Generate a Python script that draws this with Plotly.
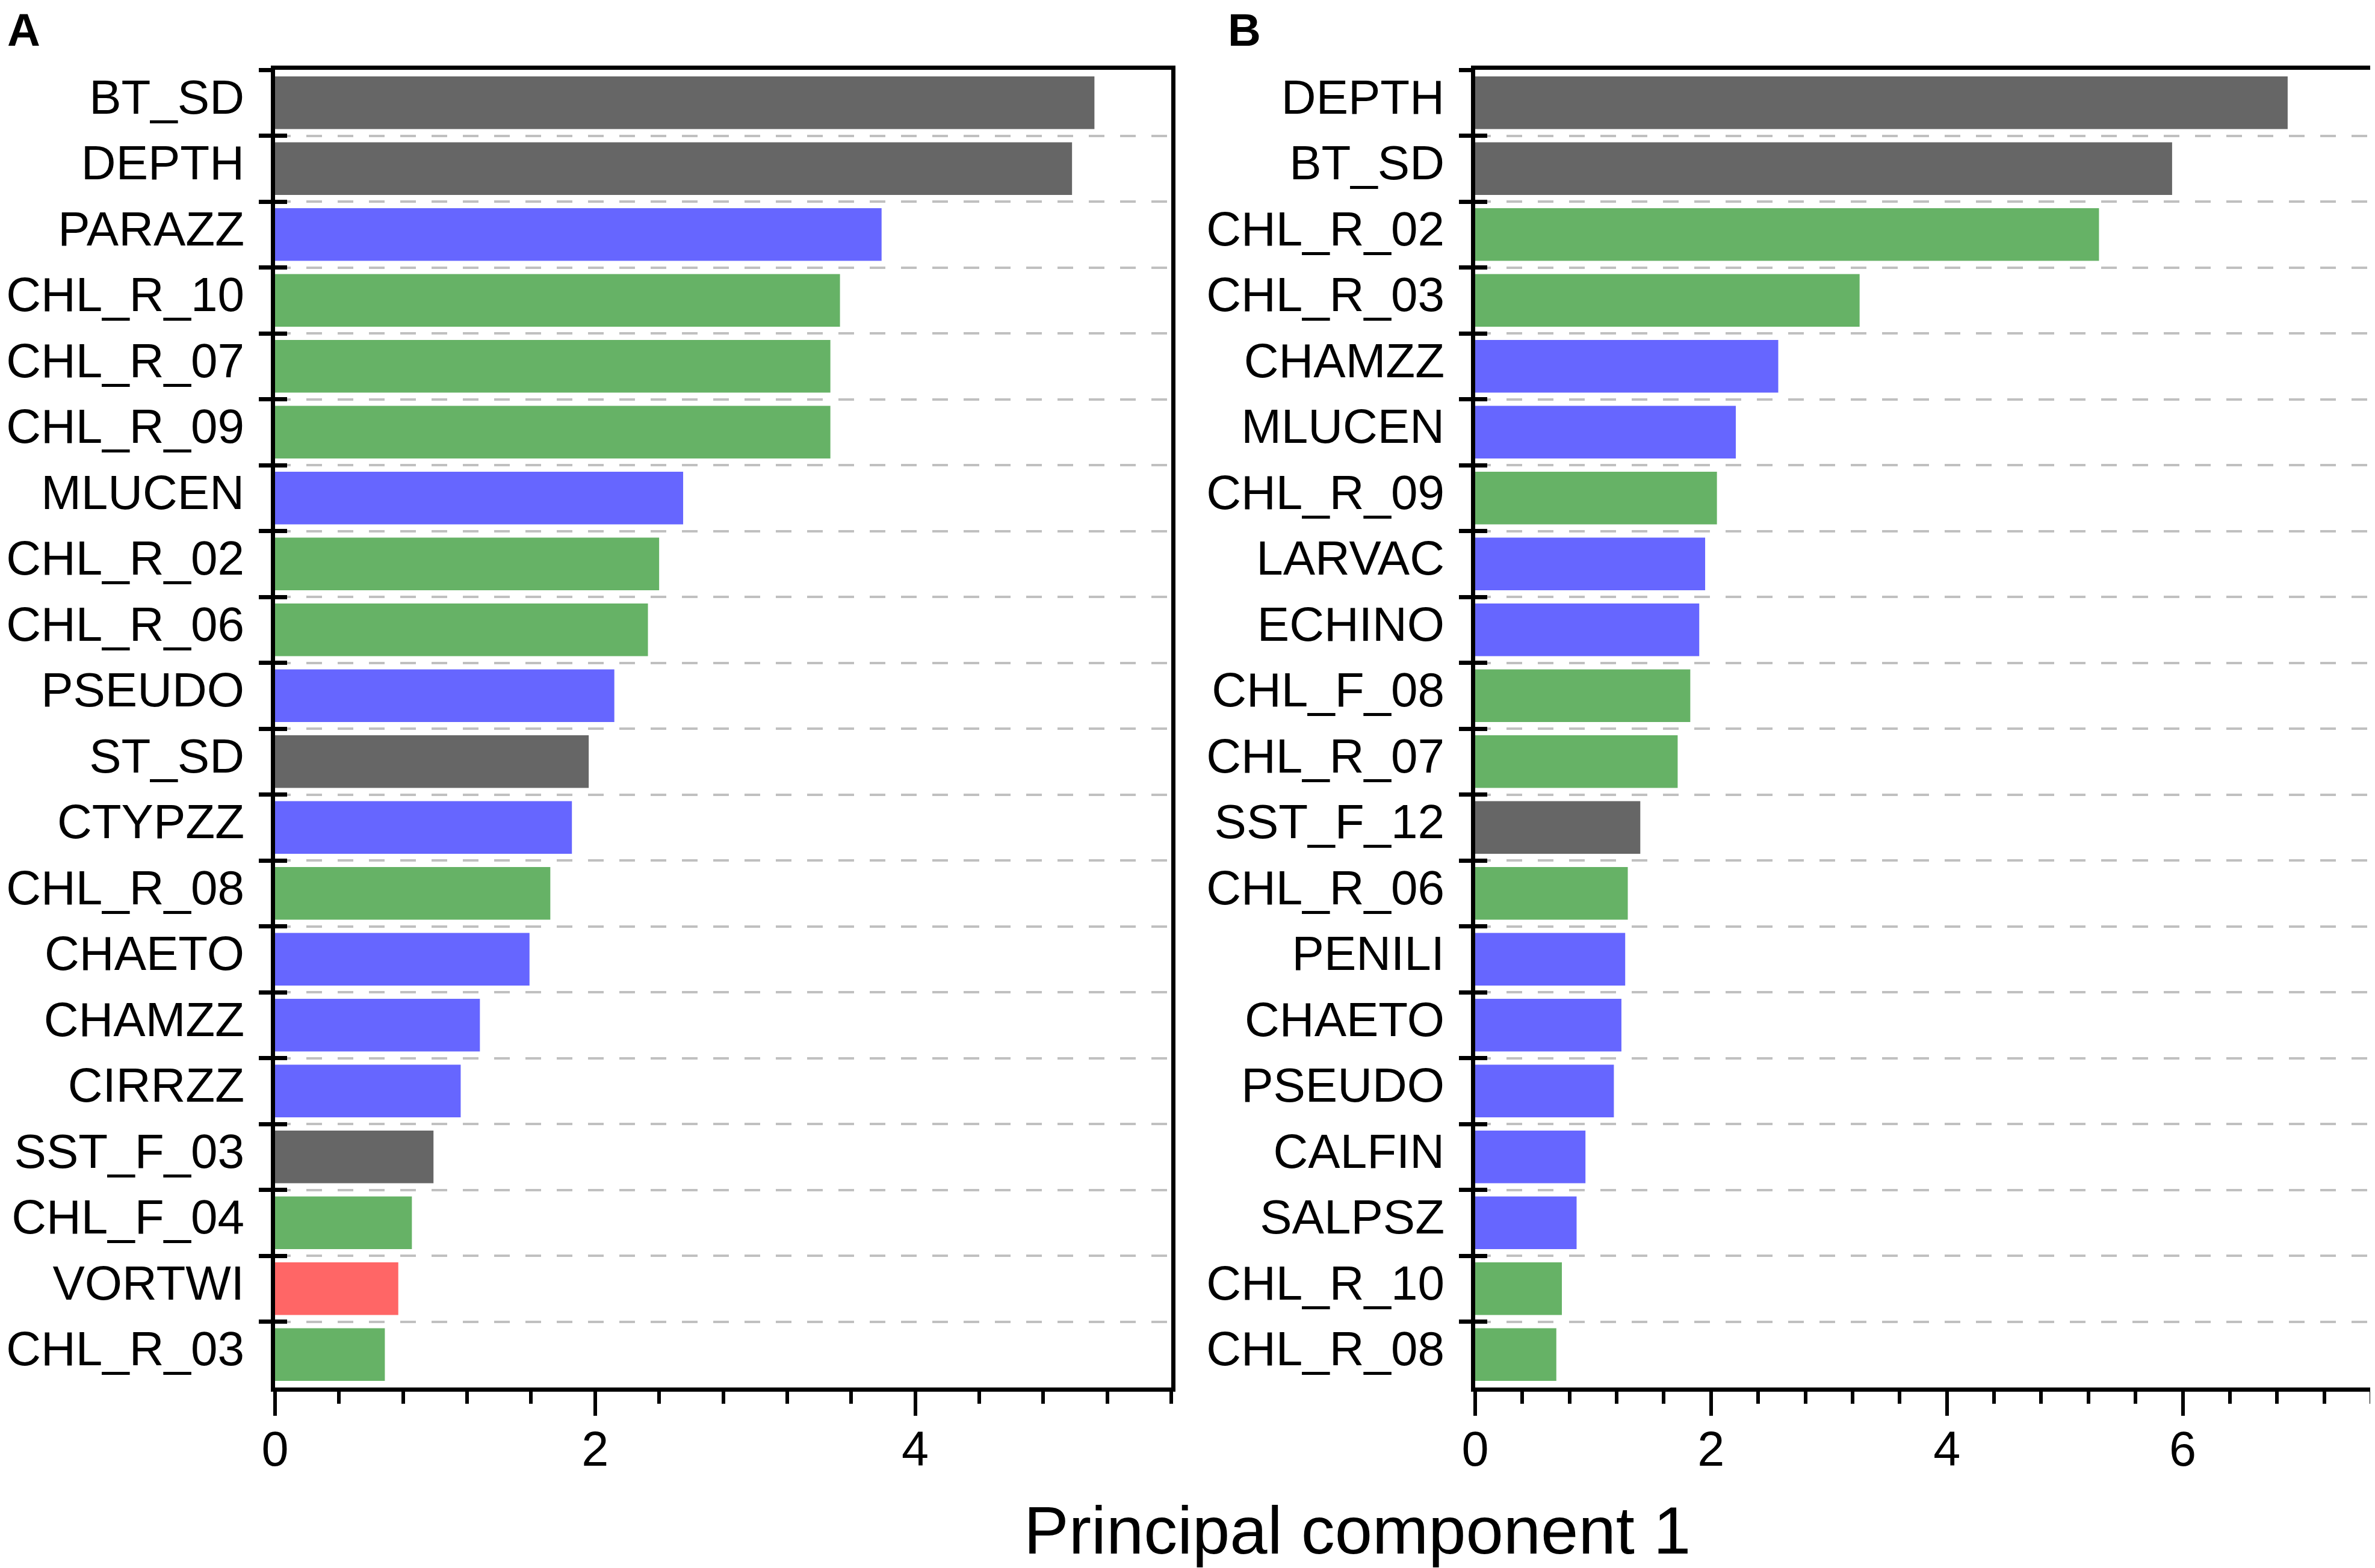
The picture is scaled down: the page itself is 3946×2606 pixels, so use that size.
import plotly.graph_objects as go

# ---------------- data ----------------
labels_a = ["BT_SD", "DEPTH", "PARAZZ", "CHL_R_10", "CHL_R_07", "CHL_R_09", "MLUCEN",
            "CHL_R_02", "CHL_R_06", "PSEUDO", "ST_SD", "CTYPZZ", "CHL_R_08", "CHAETO",
            "CHAMZZ", "CIRRZZ", "SST_F_03", "CHL_F_04", "VORTWI", "CHL_R_03"]
values_a = [5.12, 4.98, 3.79, 3.53, 3.47, 3.47, 2.55, 2.40, 2.33, 2.12, 1.96, 1.855,
            1.72, 1.59, 1.28, 1.16, 0.99, 0.855, 0.77, 0.686]
groups_a = ["phys", "phys", "zoo", "chl", "chl", "chl", "zoo", "chl", "chl", "zoo",
            "phys", "zoo", "chl", "zoo", "zoo", "zoo", "phys", "chl", "vort", "chl"]

labels_b = ["DEPTH", "BT_SD", "CHL_R_02", "CHL_R_03", "CHAMZZ", "MLUCEN", "CHL_R_09",
            "LARVAC", "ECHINO", "CHL_F_08", "CHL_R_07", "SST_F_12", "CHL_R_06", "PENILI",
            "CHAETO", "PSEUDO", "CALFIN", "SALPSZ", "CHL_R_10", "CHL_R_08"]
values_b = [6.89, 5.91, 5.29, 3.26, 2.57, 2.21, 2.05, 1.95, 1.90, 1.824, 1.717, 1.40,
            1.294, 1.272, 1.24, 1.176, 0.935, 0.86, 0.735, 0.688]
groups_b = ["phys", "phys", "chl", "chl", "zoo", "zoo", "chl", "zoo", "zoo", "chl",
            "chl", "phys", "chl", "zoo", "zoo", "zoo", "zoo", "zoo", "chl", "chl"]

group_colors = {"phys": "#666666", "zoo": "#6666FF", "chl": "#66B266", "vort": "#FF6666"}

x_title = "Principal component 1"
panel_letters = ["A", "B"]
x_range_a = [0, 5.6]
x_range_b = [0, 7.6]

# ---------------- figure ----------------
W, H = 3946, 2606
FONT = "Liberation Sans, Arial, sans-serif"
fig = go.Figure()

fig.add_trace(go.Bar(x=values_a, y=labels_a, orientation="h",
                     marker=dict(color=[group_colors[g] for g in groups_a], line=dict(width=0)),
                     xaxis="x", yaxis="y", showlegend=False))
fig.add_trace(go.Bar(x=values_b, y=labels_b, orientation="h",
                     marker=dict(color=[group_colors[g] for g in groups_b], line=dict(width=0)),
                     xaxis="x2", yaxis="y2", showlegend=False))
# invisible traces to carry inner tick marks on overlay axes
fig.add_trace(go.Scatter(x=values_a, y=labels_a, mode="markers", marker=dict(opacity=0, size=1),
                         xaxis="x", yaxis="y3", showlegend=False, hoverinfo="skip"))
fig.add_trace(go.Scatter(x=values_b, y=labels_b, mode="markers", marker=dict(opacity=0, size=1),
                         xaxis="x2", yaxis="y4", showlegend=False, hoverinfo="skip"))

xa_dom = [449 / W, 1938 / W]
xb_dom = [2443 / W, 3932 / W]
y_dom = [1 - 2298 / H, 1 - 108 / H]

def xaxis_cfg(dom, rng, anchor):
    return dict(domain=dom, range=rng, anchor=anchor, showgrid=False, zeroline=False,
                automargin=False,
                showline=True, linecolor="black", linewidth=7, mirror=True,
                ticks="outside", ticklen=40, tickwidth=6, tickcolor="black", dtick=2, tick0=0,
                ticklabelstandoff=-14,
                minor=dict(dtick=0.4, tick0=0, ticks="outside", ticklen=20, tickwidth=6,
                           tickcolor="black", showgrid=False),
                tickfont=dict(family=FONT, size=81, color="black"))

def yaxis_cfg(labels, anchor):
    return dict(domain=y_dom, anchor=anchor, type="category", categoryorder="array",
                categoryarray=labels, range=[len(labels) - 0.5, -0.5], automargin=False,
                showline=True, linecolor="black", linewidth=7, mirror=True,
                ticks="outside", ticklen=20, tickwidth=7, tickcolor="black", tickson="boundaries",
                ticklabelstandoff=28, ticklabelshift=10,
                showgrid=True, gridcolor="#c0c0c0", gridwidth=4, griddash="26px,26px",
                zeroline=False, tickfont=dict(family=FONT, size=80, color="black"))

def yoverlay_cfg(labels, over, anchor):
    return dict(domain=y_dom, anchor=anchor, overlaying=over, type="category",
                categoryorder="array", categoryarray=labels, range=[len(labels) - 0.5, -0.5],
                automargin=False,
                showline=False, showgrid=False, zeroline=False, showticklabels=False,
                ticks="inside", ticklen=20, tickwidth=7, tickcolor="black", tickson="boundaries")

fig.update_layout(
    width=W, height=H, margin=dict(l=0, r=0, t=0, b=0, autoexpand=False),
    paper_bgcolor="white", plot_bgcolor="white",
    bargap=0.2,
    xaxis=xaxis_cfg(xa_dom, x_range_a, "y"),
    xaxis2=xaxis_cfg(xb_dom, x_range_b, "y2"),
    yaxis=yaxis_cfg(labels_a, "x"),
    yaxis2=yaxis_cfg(labels_b, "x2"),
    yaxis3=yoverlay_cfg(labels_a, "y", "x"),
    yaxis4=yoverlay_cfg(labels_b, "y2", "x2"),
    font=dict(family=FONT, color="black"),
)

fig.add_annotation(text=x_title, x=2247 / W, y=1 - 2535 / H, xref="paper", yref="paper",
                   xanchor="center", yanchor="middle", showarrow=False,
                   font=dict(family=FONT, size=112, color="black"))
for letter, px in zip(panel_letters, [2, 2030]):
    fig.add_annotation(text="<b>" + letter + "</b>", x=px / W, y=1 - 42 / H,
                       xref="paper", yref="paper", xanchor="left", yanchor="middle",
                       showarrow=False, font=dict(family=FONT, size=76, color="black"))

fig.write_html("out.html")
